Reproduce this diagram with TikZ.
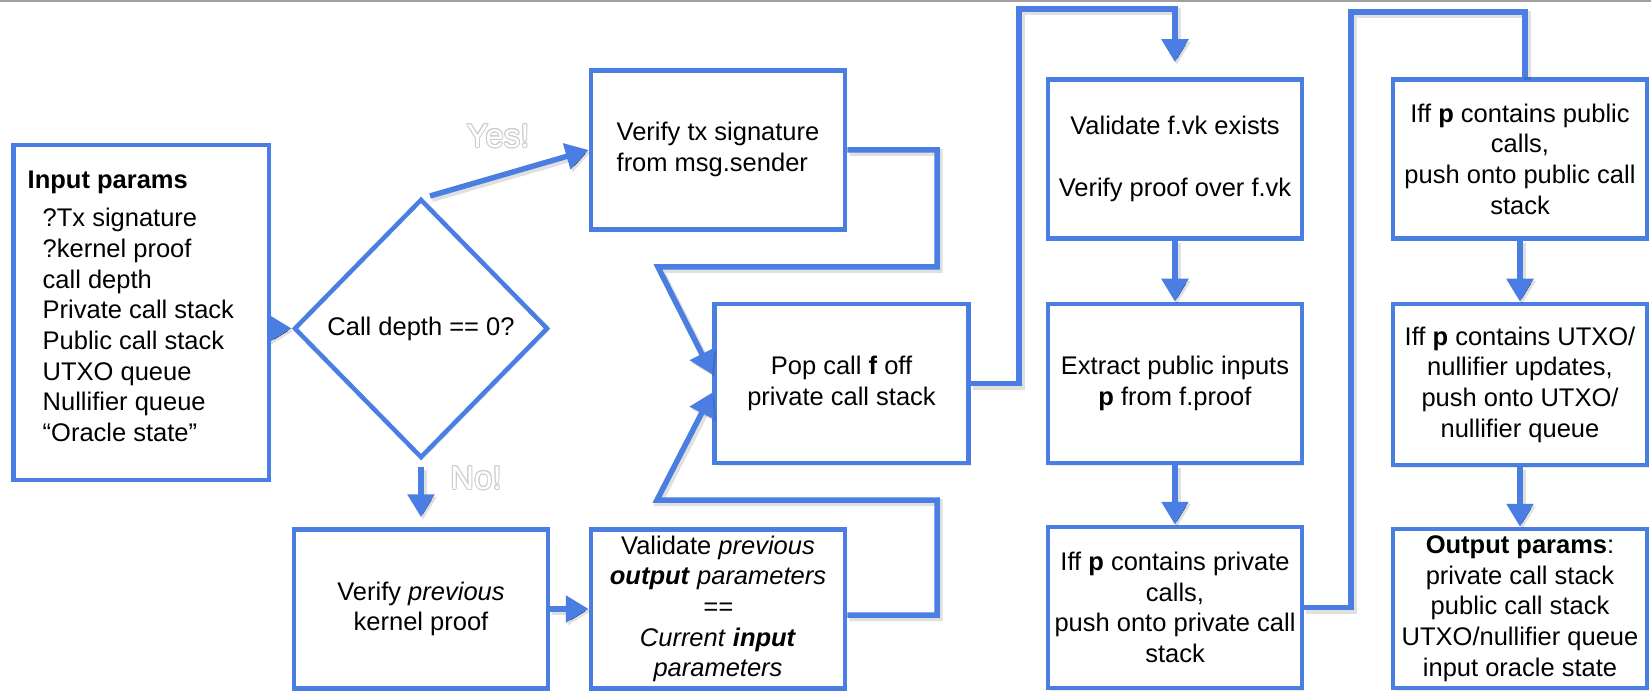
\documentclass[tikz,border=0pt]{standalone}
\usepackage{fontspec}
\setmainfont{Liberation Sans}
\usetikzlibrary{arrows.meta,shapes.geometric,calc,shadows}
\definecolor{flowblue}{RGB}{74,126,226}
\definecolor{ruleg}{RGB}{160,160,160}
\definecolor{ghostline}{RGB}{205,205,205}

% white label with a thin grey outline
\newcommand\outlinedlabel[3]{%
  \foreach \ang in {0,22.5,...,337.5}
    \node[ghost, text=ghostline, shift={(\ang:0.9pt)}] at #2 {#3};
  \node[ghost, text=white] (#1) at #2 {#3};}

\begin{document}
\begin{tikzpicture}[x=1pt,y=-1pt,
  txt/.style={font=\fontsize{25.5pt}{30.7pt}\selectfont},
  soft/.style={drop shadow={opacity=0.16, shadow xshift=2pt, shadow yshift=-2.5pt}},
  stepbox/.style={txt, draw=flowblue, line width=4.5pt, fill=white, soft,
    minimum width=254pt, minimum height=159pt, inner sep=0pt, align=center},
  flow/.style={draw=flowblue, line width=5.5pt,
    preaction={draw=black, draw opacity=0.12, line width=7pt,
      transform canvas={shift={(2pt,-2.5pt)}}}},
  arr/.style={flow, -{Triangle[length=23pt,width=26pt]}},
  ghost/.style={font=\fontsize{33pt}{36pt}\selectfont, inner sep=0pt}
]
\fill[white] (0,0) rectangle (1651,692);
\useasboundingbox (0,0) rectangle (1651,692);
\draw[ruleg, line width=2pt] (0,1) -- (1651,1);

% input parameters
\node[draw=flowblue, line width=4.5pt, fill=white, soft, minimum width=255.5pt,
  minimum height=334.5pt, inner sep=0pt] (inp) at (141,312.5) {};
\node[txt, anchor=west, align=left, inner sep=0pt] (inptext) at (27.5,306.5)
  {\textbf{Input params}\\[7.5pt]
   \hspace*{15pt}?Tx signature\\
   \hspace*{15pt}?kernel proof\\
   \hspace*{15pt}call depth\\
   \hspace*{15pt}Private call stack\\
   \hspace*{15pt}Public call stack\\
   \hspace*{15pt}UTXO queue\\
   \hspace*{15pt}Nullifier queue\\
   \hspace*{15pt}“Oracle state”};

% decision
\node[txt, diamond, draw=flowblue, line width=4.5pt, fill=white, soft,
  minimum width=254pt, minimum height=259pt, inner sep=0pt] (dia) at (421,328.5)
  {Call depth == 0?};

% first column of steps
\node[stepbox] (sig) at (718,150) {\begin{tabular}{@{}l@{}}Verify tx signature\\from msg.sender\end{tabular}};
\node[stepbox] (prev) at (421,609) {Verify \textit{previous}\\kernel proof};
\node[stepbox] (val) at (718,609) {Validate \textit{previous}\\\textbf{\textit{output}} \textit{parameters}\\\textit{==}\\\textit{Current} \textbf{\textit{input}}\\\textit{parameters}};
\node[stepbox] (pop) at (841.5,383.5) {Pop call \textbf{f} off\\private call stack};

% proof column
\node[stepbox] (vk) at (1175,159) {Validate f.vk exists\\[31pt]Verify proof over f.vk};
\node[stepbox] (ext) at (1175,383.5) {Extract public inputs\\\textbf{p} from f.proof};
\node[stepbox, minimum height=161pt] (priv) at (1175,607.5) {Iff \textbf{p} contains private\\calls,\\push onto private call\\stack};

% output column
\node[stepbox] (pub) at (1520,159) {Iff \textbf{p} contains public\\calls,\\push onto public call\\stack};
\node[stepbox, minimum height=161pt] (utxo) at (1520,384.5) {Iff \textbf{p} contains UTXO/\\nullifier updates,\\push onto UTXO/\\nullifier queue};
\node[stepbox] (outp) at (1520,608.5) {\textbf{Output params}:\\private call stack\\public call stack\\UTXO/nullifier queue\\input oracle state};

% connectors
\draw[arr] (inp.east |- dia.west) -- (dia.west);
\coordinate (yesfrom) at (430,196);
\draw[arr] (yesfrom) -- (sig.west);
\draw[arr, shorten <=7pt, shorten >=10pt] (dia.south) -- (prev.north);
\draw[arr] (prev.east) -- (val.west);

\coordinate (sA) at (937,267);
\coordinate (sB) at (658,267);
\draw[arr] (sig.east) -| (sA) -- (sB) -- ($(pop.west)+(0,-9)$);
\coordinate (vA) at (937,500);
\coordinate (vB) at (657,500);
\draw[arr] ($(val.east)+(0,6)$) -| (vA) -- (vB) -- ($(pop.west)+(0,9)$);

\coordinate (pA) at (1019,9);
\draw[arr, shorten >=15pt] (pop.east) -| (pA) -| (vk.north);
\draw[arr] (vk.south) -- (ext.north);
\draw[arr] (ext.south) -- (priv.north);

\coordinate (qA) at (1351,12);
\draw[flow] (priv.east) -| (qA) -| ($(pub.north)+(5,0)$);
\draw[arr] (pub.south) -- (utxo.north);
\draw[arr] (utxo.south) -- (outp.north);

% branch labels
\outlinedlabel{yes}{(498,136)}{Yes!}
\outlinedlabel{no}{(476,478)}{No!}
\end{tikzpicture}
\end{document}
